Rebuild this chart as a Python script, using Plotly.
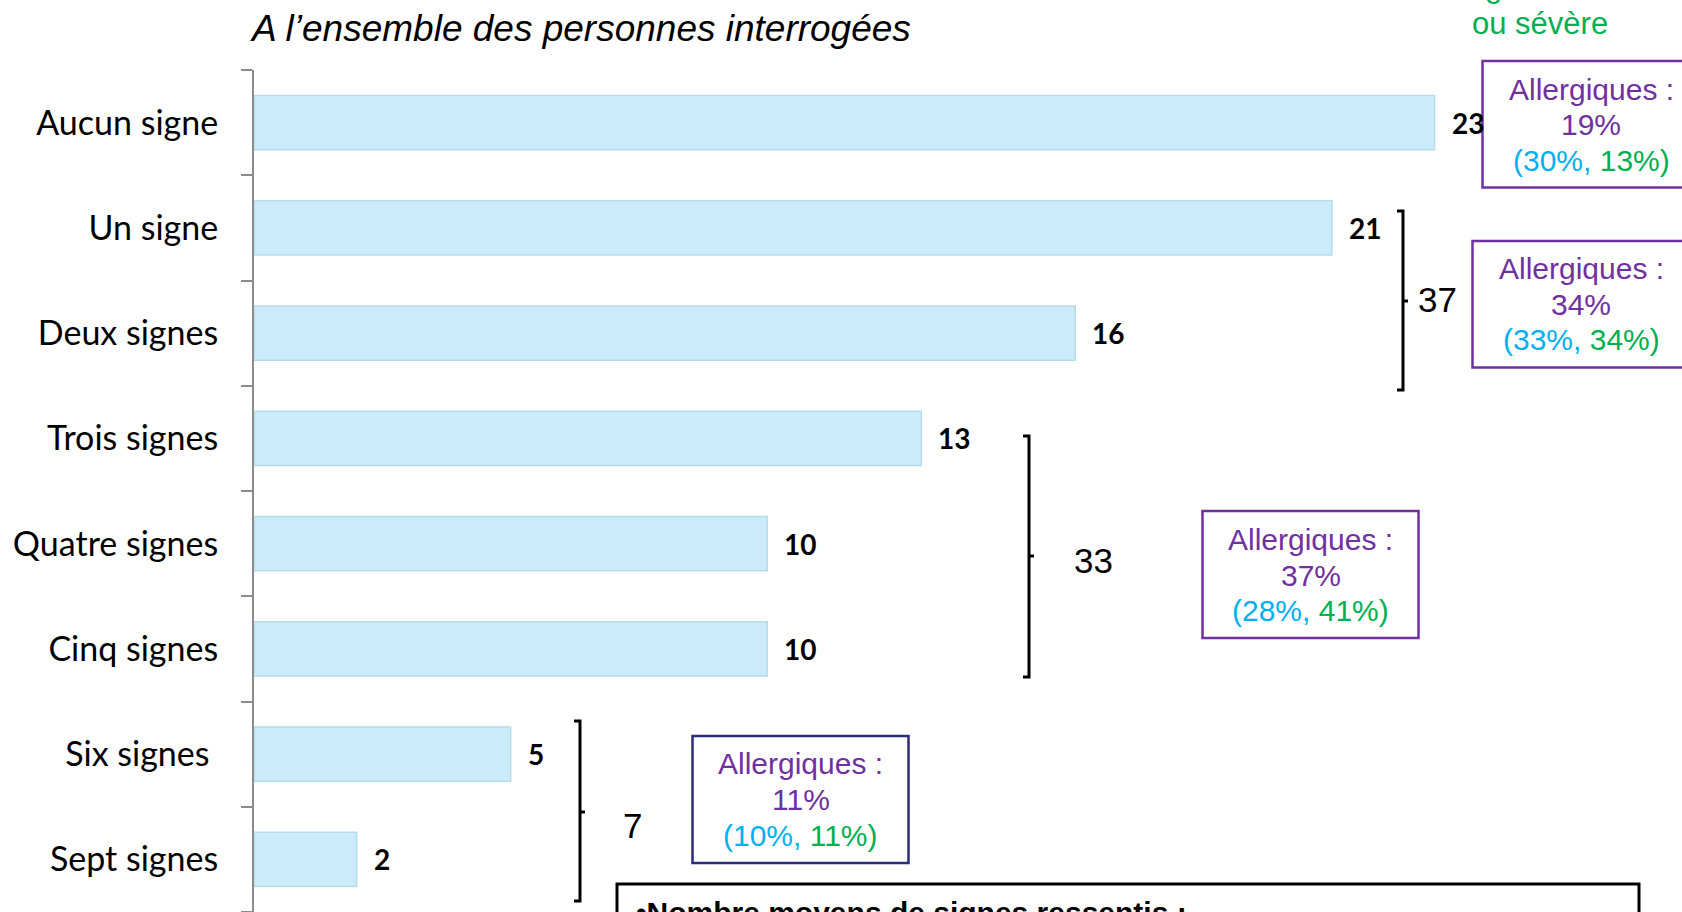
import plotly.graph_objects as go

# ---------------- data ----------------
categories = ["Aucun signe", "Un signe", "Deux signes", "Trois signes",
              "Quatre signes", "Cinq signes", "Six signes", "Sept signes"]
tick_labels = ["Aucun signe", "Un signe", "Deux signes", "Trois signes",
               "Quatre signes", "Cinq signes", "Six signes\u00a0", "Sept signes"]
values = [23, 21, 16, 13, 10, 10, 5, 2]

group_totals = ["37", "33", "7"]

allergic_total = ["19%", "34%", "37%", "11%"]
allergic_light = ["30%", "33%", "28%", "10%"]
allergic_severe = ["13%", "34%", "41%", "11%"]

title_text = "A l’ensemble des personnes interrogées"
legend_lines = ["Allergie modérée", "ou sévère"]
footer_text = "•Nombre moyens de signes ressentis :"

# ---------------- layout geometry (pixels) ----------------
W, H = 1682, 912
ML, MR, MT, MB = 254, 0, 70, 0
PW, PH = W - ML - MR, H - MT - MB
PX_PER_UNIT = 51.33

def px(X):
    return (X - ML) / PW

def py(Y):
    return (H - MB - Y) / PH

PURPLE = "#7030A0"
BLUE = "#00B0F0"
GREEN = "#00B050"
NAVY = "#2B2D78"

fig = go.Figure()
fig.add_trace(go.Bar(
    x=values, y=categories, orientation="h",
    marker=dict(color="#CCEBFA", line=dict(color="#B5DDE8", width=1.5)),
    width=0.515, hoverinfo="skip", showlegend=False,
))

annotations = []
# bar value labels
for c, v in zip(categories, values):
    annotations.append(dict(
        x=v, y=c, xref="x", yref="y", text=f"<b>{v}</b>", showarrow=False,
        xanchor="left", yanchor="middle", xshift=15,
        font=dict(family="Lato", size=28, color="black"),
    ))

# title
annotations.append(dict(
    x=px(248), y=py(29), xref="paper", yref="paper", text=f"<i>{title_text}</i>",
    showarrow=False, xanchor="left", yanchor="middle",
    font=dict(family="Liberation Sans", size=37, color="black"),
))

# green legend text (top right, partially cut)
for txt, base in zip(legend_lines, [-3, 34]):
    annotations.append(dict(
        x=px(1540), y=py(base - 10.7), xref="paper", yref="paper", text=txt,
        showarrow=False, xanchor="center", yanchor="middle",
        font=dict(family="Liberation Sans", size=31, color=GREEN),
    ))

shapes = []

# brackets with group totals
brackets = [  # (x, y_top, y_bottom, y_mid, text_left, text_center_y)
    (1403, 211, 390, 301, 1416, 299.5),
    (1029, 436, 677, 556, 1072, 560.5),
    (580, 721, 901, 812, 621, 825.5),
]
for (bx, y0, y1, ym, tx, ty), tot in zip(brackets, group_totals):
    path = (f"M {px(bx-6)},{py(y0)} L {px(bx)},{py(y0)} L {px(bx)},{py(y1)} "
            f"L {px(bx-6)},{py(y1)} M {px(bx)},{py(ym)} L {px(bx+5)},{py(ym)}")
    shapes.append(dict(type="path", xref="paper", yref="paper", path=path,
                       line=dict(color="black", width=3)))
    annotations.append(dict(
        x=px(tx), y=py(ty), xref="paper", yref="paper", text=tot,
        showarrow=False, xanchor="left", yanchor="middle",
        font=dict(family="Liberation Sans", size=35, color="black"),
    ))

# "Allergiques" boxes
boxes = [  # (x0, y0, x1, y1, center_x, baselines, border)
    (1482.5, 61, 1699, 187.5, 1591, (99.5, 135, 170.5), PURPLE),
    (1472.5, 241, 1689, 367.5, 1581, (279, 314.5, 349.5), PURPLE),
    (1202.5, 511, 1418.5, 638, 1310.5, (549.5, 586, 621), PURPLE),
    (692.5, 736, 908.5, 863, 800.5, (774, 810, 846), NAVY),
]
for (x0, y0, x1, y1, cx, bases, col), tot, li, se in zip(
        boxes, allergic_total, allergic_light, allergic_severe):
    shapes.append(dict(type="rect", xref="paper", yref="paper",
                       x0=px(x0), x1=px(x1), y0=py(y1), y1=py(y0),
                       line=dict(color=col, width=2.5), fillcolor="rgba(0,0,0,0)"))
    lines = [
        f"<span style='color:{PURPLE}'>Allergiques :</span>",
        f"<span style='color:{PURPLE}'>{tot}</span>",
        f"<span style='color:{BLUE}'>({li}, </span><span style='color:{GREEN}'>{se})</span>",
    ]
    for txt, b in zip(lines, bases):
        annotations.append(dict(
            x=px(cx), y=py(b - 10.4), xref="paper", yref="paper", text=txt,
            showarrow=False, xanchor="center", yanchor="middle",
            font=dict(family="Liberation Sans", size=30, color=PURPLE),
        ))

# footer box (cut at bottom)
shapes.append(dict(type="rect", xref="paper", yref="paper",
                   x0=px(617), x1=px(1639), y0=py(960), y1=py(884),
                   line=dict(color="black", width=3), fillcolor="rgba(0,0,0,0)"))
annotations.append(dict(
    x=px(634), y=py(913), xref="paper", yref="paper", text=f"<b>{footer_text}</b>",
    showarrow=False, xanchor="left", yanchor="middle",
    font=dict(family="Liberation Sans", size=30, color="black"),
))

fig.update_layout(
    width=W, height=H,
    margin=dict(l=ML, r=MR, t=MT, b=MB, pad=0),
    paper_bgcolor="white", plot_bgcolor="white",
    showlegend=False,
    xaxis=dict(range=[0, PW / PX_PER_UNIT], visible=False, fixedrange=True),
    yaxis=dict(
        type="category", categoryorder="array", categoryarray=categories,
        tickmode="array", tickvals=categories, ticktext=tick_labels,
        range=[len(categories) - 0.5, -0.5],
        showline=True, linecolor="#8C8C8C", linewidth=2,
        ticks="outside", ticklen=11, tickwidth=2, tickcolor="#8C8C8C",
        tickson="boundaries", showgrid=False, zeroline=False,
        tickfont=dict(family="Lato", size=34, color="black"),
        ticklabelstandoff=27, fixedrange=True,
    ),
    annotations=annotations,
    shapes=shapes,
)

fig.write_html("out.html", config={"displayModeBar": False},
               post_script="document.body.style.margin='0';document.body.style.overflow='hidden';")
